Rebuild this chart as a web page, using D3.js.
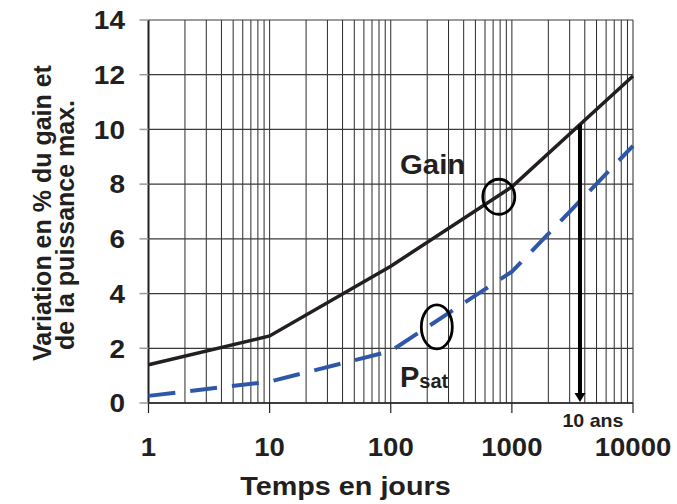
<!DOCTYPE html>
<html>
<head>
<meta charset="utf-8">
<script src="https://cdn.jsdelivr.net/npm/d3@7"></script>
<style>
  body { margin: 0; background: #fff; }
  text { font-family: "Liberation Sans", Arial, sans-serif; font-weight: bold; fill: #231f20; }
</style>
</head>
<body>
<svg id="main" width="677" height="504"></svg>
<script>
// data
const days = [1, 10, 100, 1000, 10000];
const gain = [1.4, 2.45, 5.0, 7.9, 11.95];   // % variation du gain
const psat = [0.26, 0.78, 1.9, 4.8, 9.4];    // % variation de Psat
const xTicks = [1, 10, 100, 1000, 10000];
const yTicks = [0, 2, 4, 6, 8, 10, 12, 14];
const tenYears = 3650; // 10 ans en jours

const svg = d3.select('#main');

const x = d3.scaleLog().domain([1, 10000]).range([148.5, 633]);
const y = d3.scaleLinear().domain([0, 14]).range([403, 20]);

// horizontal text in the original is a bit wider than Liberation Sans
const wide = (sx, px, py) => `translate(${px},${py}) scale(${sx},1)`;

// grid
const grid = svg.append('g');
grid.selectAll('.vg').data(x.ticks())
  .join('line')
  .attr('x1', d => x(d)).attr('x2', d => x(d))
  .attr('y1', y(14)).attr('y2', y(0))
  .attr('stroke', '#2a2a2a').attr('stroke-width', 1);

grid.selectAll('.hg').data(yTicks)
  .join('line')
  .attr('x1', x(1)).attr('x2', x(10000))
  .attr('y1', d => y(d)).attr('y2', d => y(d))
  .attr('stroke', '#3a3a3a').attr('stroke-width', 1.2);

// axes lines
svg.append('line').attr('x1', x(1)).attr('x2', x(1)).attr('y1', y(14)).attr('y2', y(0))
  .attr('stroke', '#231f20').attr('stroke-width', 2);
svg.append('line').attr('x1', x(1)).attr('x2', x(10000)).attr('y1', y(0)).attr('y2', y(0))
  .attr('stroke', '#231f20').attr('stroke-width', 1.5);

// y ticks + labels
svg.selectAll('.yt').data(yTicks).join('line')
  .attr('x1', x(1) - 9).attr('x2', x(1))
  .attr('y1', d => y(d)).attr('y2', d => y(d))
  .attr('stroke', '#999').attr('stroke-width', 1.5);
svg.selectAll('.yl').data(yTicks).join('text')
  .attr('transform', d => wide(1.12, 125, y(d) + 9.3))
  .attr('text-anchor', 'end')
  .style('font-size', '25px')
  .text(d => d);

// x ticks + labels
svg.selectAll('.xt').data(xTicks).join('line')
  .attr('x1', d => x(d)).attr('x2', d => x(d))
  .attr('y1', y(0)).attr('y2', y(0) + 10)
  .attr('stroke', '#231f20').attr('stroke-width', 1.2);
svg.selectAll('.xl').data(xTicks).join('text')
  .attr('transform', d => wide(1.1, x(d), 456))
  .attr('text-anchor', 'middle')
  .style('font-size', '25px')
  .text(d => d);

// axis titles
svg.append('text').attr('transform', wide(1.15, 345.5, 495))
  .attr('text-anchor', 'middle').style('font-size', '25px')
  .text('Temps en jours');
svg.append('text').attr('transform', 'translate(51,213) rotate(-90)')
  .attr('text-anchor', 'middle').style('font-size', '25px')
  .text('Variation en % du gain et');
svg.append('text').attr('transform', 'translate(74,225) rotate(-90)')
  .attr('text-anchor', 'middle').style('font-size', '25px')
  .text('de la puissance max.');

// curves
const line = d3.line().x(d => x(d[0])).y(d => y(d[1]));

svg.append('path')
  .datum(d3.zip(days, psat))
  .attr('d', line)
  .attr('fill', 'none')
  .attr('stroke', '#2f57a8')
  .attr('stroke-width', 4)
  .attr('stroke-dasharray', '27,15');

svg.append('path')
  .datum(d3.zip(days, gain))
  .attr('d', line)
  .attr('fill', 'none')
  .attr('stroke', '#231f20')
  .attr('stroke-width', 3.5);

// 10 ans arrow
const gainAt = d3.scaleLog().domain(days).range(gain);
const ax = x(tenYears);
svg.append('line')
  .attr('x1', ax).attr('x2', ax)
  .attr('y1', y(gainAt(tenYears))).attr('y2', y(0) - 7)
  .attr('stroke', '#000').attr('stroke-width', 4);
svg.append('path')
  .attr('d', `M${ax - 5.5},${y(0) - 10}L${ax + 5.5},${y(0) - 10}L${ax},${y(0) - 1}Z`)
  .attr('fill', '#000');
svg.append('text').attr('transform', wide(1.09, ax + 13, 427))
  .attr('text-anchor', 'middle').style('font-size', '18px')
  .text('10 ans');

// ellipses marking each curve
svg.append('ellipse')
  .attr('cx', x(780)).attr('cy', y(7.54)).attr('rx', 16).attr('ry', 17.5)
  .attr('fill', 'none').attr('stroke', '#000').attr('stroke-width', 2.8);
svg.append('ellipse')
  .attr('cx', x(240)).attr('cy', y(2.78)).attr('rx', 15.5).attr('ry', 22)
  .attr('fill', 'none').attr('stroke', '#000').attr('stroke-width', 2.8);

// labels
svg.append('text').attr('transform', wide(1.05, 400, 174))
  .style('font-size', '28px').text('Gain');
const ps = svg.append('text').attr('transform', wide(1.0, 400, 387)).style('font-size', '29px');
ps.append('tspan').text('P');
ps.append('tspan').attr('dy', 1).style('font-size', '20px').text('sat');
</script>
</body>
</html>
